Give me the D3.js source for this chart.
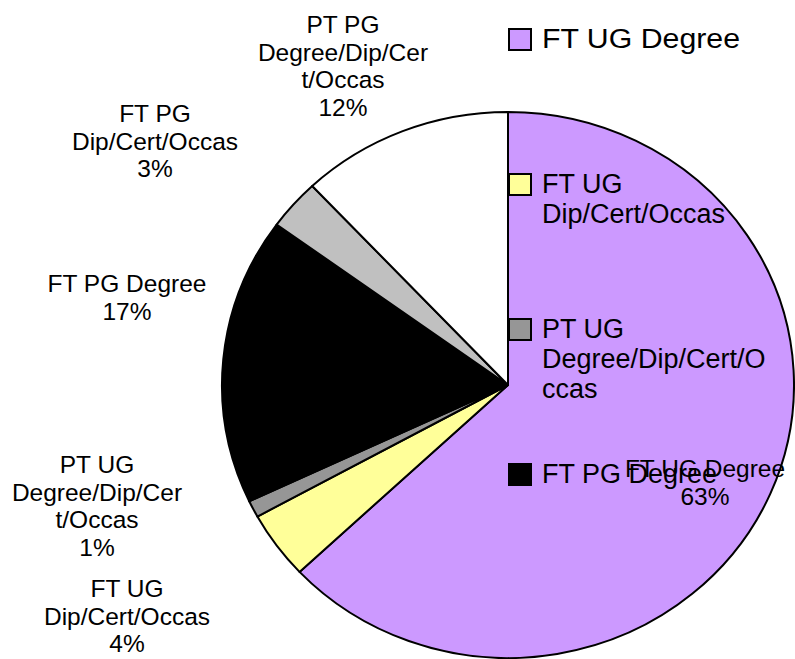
<!DOCTYPE html>
<html>
<head>
<meta charset="utf-8">
<script src="https://cdn.jsdelivr.net/npm/d3@7"></script>
<style>
  body { margin: 0; background: #fff; }
  svg { display: block; font-family: "Liberation Sans", Arial, sans-serif; }
</style>
</head>
<body>
<div id="chart"></div>
<script>
// data
var categories = ["FT UG Degree", "FT UG Dip/Cert/Occas", "PT UG Degree/Dip/Cert/Occas",
                  "FT PG Degree", "FT PG Dip/Cert/Occas", "PT PG Degree/Dip/Cert/Occas"];
var shares = [63, 4, 1, 17, 3, 12];
var sliceColors = ["#CC99FF", "#FFFF99", "#969696", "#000000", "#C0C0C0", "#FFFFFF"];

// data label text, wrapped the way the original shows it
var labelLines = [
    ["FT UG Degree", "63%"],
    ["FT UG", "Dip/Cert/Occas", "4%"],
    ["PT UG", "Degree/Dip/Cer", "t/Occas", "1%"],
    ["FT PG Degree", "17%"],
    ["FT PG", "Dip/Cert/Occas", "3%"],
    ["PT PG", "Degree/Dip/Cer", "t/Occas", "12%"]
];
// legend text (the legend box only has room for the first four)
var legendLines = [
    ["FT UG Degree"],
    ["FT UG", "Dip/Cert/Occas"],
    ["PT UG", "Degree/Dip/Cert/O", "ccas"],
    ["FT PG Degree"]
];

var width = 795, height = 659;
var cx = 508, cy = 385;      // pie centre
var rx = 286, ry = 273;      // pie is slightly stretched horizontally
var labelSize = 24.5, labelLead = 27.7;
var legendSize = 27, legendLead = 30;

// where each data label block sits: centre x, first baseline
var labelAnchors = [[705, 477], [127, 597], [97, 473], [127, 292], [155, 122], [343, 33]];

var svg = d3.select("#chart").append("svg")
    .attr("width", width)
    .attr("height", height);

var pie = d3.pie().sort(null).value(function (d) { return d; });
var arc = d3.arc().innerRadius(0).outerRadius(ry);

var slices = svg.append("g")
    .attr("transform", "translate(" + cx + "," + cy + ") scale(" + (rx / ry) + ",1)");

slices.selectAll("path").data(pie(shares)).enter().append("path")
    .attr("d", arc)
    .attr("fill", function (d, i) { return sliceColors[i]; })
    .attr("stroke", "#000")
    .attr("stroke-width", 2)
    .attr("stroke-linejoin", "round")
    .attr("vector-effect", "non-scaling-stroke");

// legend (drawn before the labels so the 63% label sits on top)
var legendY = d3.scaleLinear().domain([0, 1]).range([48, 193]);
var legend = svg.append("g");

var items = legend.selectAll("g").data(legendLines).enter().append("g")
    .attr("transform", function (d, i) { return "translate(509," + legendY(i) + ")"; });

items.append("rect")
    .attr("x", 0)
    .attr("y", -19)
    .attr("width", 22)
    .attr("height", 21)
    .attr("fill", function (d, i) { return sliceColors[i]; })
    .attr("stroke", "#000")
    .attr("stroke-width", 2);

items.each(function (lines, i) {
    var t = d3.select(this).append("text")
        .attr("x", 33)
        .attr("font-size", legendSize)
        .attr("fill", "#000");
    t.selectAll("tspan").data(lines).enter().append("tspan")
        .attr("x", 33)
        .attr("y", function (d, j) { return j * legendLead; })
        .text(function (d) { return d; });
    if (i === 0) {
        t.select("tspan").attr("textLength", 198).attr("lengthAdjust", "spacingAndGlyphs");
    }
});

// data labels
var labels = svg.append("g");
labels.selectAll("text").data(labelLines).enter().append("text")
    .attr("text-anchor", "middle")
    .attr("font-size", labelSize)
    .attr("fill", "#000")
    .each(function (lines, i) {
        var a = labelAnchors[i];
        d3.select(this).selectAll("tspan").data(lines).enter().append("tspan")
            .attr("x", a[0])
            .attr("y", function (d, j) { return a[1] + j * labelLead; })
            .text(function (d) { return d; });
    });
</script>
</body>
</html>
